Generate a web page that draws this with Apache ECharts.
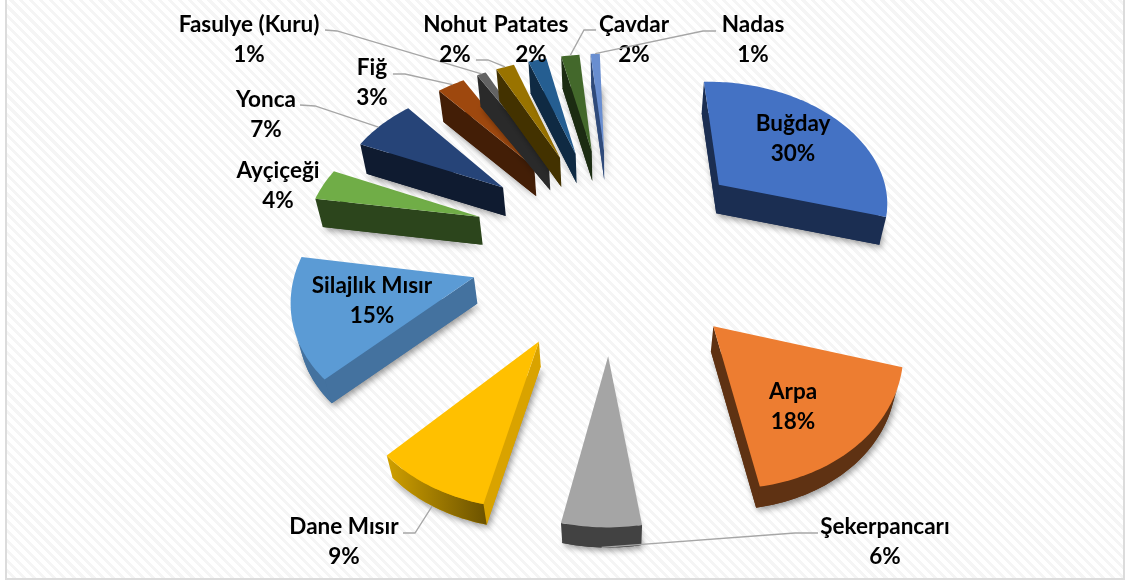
<!DOCTYPE html>
<html>
<head>
<meta charset="utf-8">
<style>
  html, body { margin: 0; padding: 0; background: #fff; }
  #frame {
    position: absolute; left: 5px; top: -4px; width: 1116px; height: 580px;
    border: 2px solid #dcdcdc;
    background: repeating-linear-gradient(45deg, #ffffff 0 4px, #f5f5f5 4px 7px);
  }
  #chart { position: absolute; left: 0; top: 0; width: 1125px; height: 584px; }
</style>
</head>
<body>
<div id="frame"></div>
<div id="chart"></div>
<script src="https://cdn.jsdelivr.net/npm/echarts@6/dist/echarts.min.js"></script>
<script>
const categories = ["Buğday", "Arpa", "Şekerpancarı", "Dane Mısır", "Silajlık Mısır", "Ayçiçeği", "Yonca", "Fiğ", "Fasulye (Kuru)", "Nohut", "Patates", "Çavdar", "Nadas"];
const shares = [30, 18, 6, 9, 15, 4, 7, 3, 1, 2, 2, 2, 1];

const topColors = ["#4472C4", "#ED7D31", "#A5A5A5", "#FFC000", "#5B9BD5", "#70AD47", "#264478", "#9E480E", "#636363", "#997300", "#255E91", "#43682B", "#698ED0"];
const wallColors = ["#1B2E52", "#5F3213", "#424242", "#D9A300", "#44729F", "#2C451C", "#0F1B30", "#431E06", "#2A2A2A", "#433200", "#0F2A43", "#1C2C12", "#2F4A7A"];

// label centre of the name line, the percent sits one line below
const labelX = [793, 793, 885, 344, 372, 278, 266, 372, 249, 455, 531, 634, 753];
const labelY = [124, 392, 527, 527, 286, 171, 100, 68, 25, 25, 25, 25, 25];

// leader lines: two fixed points next to the label, then where on the arc it lands and on which edge
const leaders = {
  2: [[818, 533], [795, 533], 0.5, 1],
  3: [[403, 533], [415, 533], 0.5, 1],
  6: [[300, 105], [315, 106], 0.45, 0],
  7: [[393, 74], [405, 74], 0.5, 0],
  8: [[325, 30], [337, 31], 0.5, 0],
  9: [[476, 60], [488, 60], 0.5, 0],
  11: [[596, 30], [584, 30], 0.5, 0],
  12: [[716, 31], [703, 31], 0.5, 0]
};

// 3D pie view: exploded slices on a tilted plane, fitted to the picture
const view = { cx: 612.6, y0: 244.4, a: 142, b: 102.2, p: 0.087, r: 1.232, rot: -1.96 };
const wallDrop = { k: 0.025, vy: 1330 }; // vertical edges run to this point
const labelFont = "bold 22.5px Lato";
const total = shares.reduce((s, v) => s + v, 0);

const project = (X, Y) => {
  const w = 1 + view.p * Y;
  return [view.cx + (view.a * X) / w, view.y0 - (view.b * Y) / w];
};
const lower = (pt) => [pt[0] + (view.cx - pt[0]) * wallDrop.k, pt[1] + (wallDrop.vy - pt[1]) * wallDrop.k];
const area = (pts) => pts.reduce((s, p, i) => {
  const q = pts[(i + 1) % pts.length];
  return s + p[0] * q[1] - q[0] * p[1];
}, 0);

/** top face outline of one slice: apex first, then the arc clockwise */
const sliceFace = (index, value) => {
  const before = shares.slice(0, index).reduce((s, v) => s + v, 0);
  const start = ((view.rot + (before / total) * 360) * Math.PI) / 180;
  const span = ((value / total) * 360 * Math.PI) / 180;
  const mid = start + span / 2;
  const ox = Math.sin(mid);
  const oy = Math.cos(mid);
  const n = Math.max(4, Math.round(value * 3));
  const arc = [];
  for (let k = 0; k <= n; k++) {
    const t = start + (span * k) / n;
    arc.push(project(ox + view.r * Math.sin(t), oy + view.r * Math.cos(t)));
  }
  return { apex: project(ox, oy), arc };
};

const polygon = (points, style) => ({ type: "polygon", shape: { points }, style });

const renderSlice = (params, api) => {
  const i = api.value(1);
  const { apex, arc } = sliceFace(i, api.value(0));
  const face = [apex].concat(arc);
  const children = [];

  // silhouette of the floor, carries the soft shadow
  children.push(polygon(face.map(lower), {
    fill: wallColors[i],
    shadowColor: "rgba(0,0,0,0.4)",
    shadowBlur: 6,
    shadowOffsetX: 2,
    shadowOffsetY: 3
  }));

  // radial walls that face the viewer
  [[apex, arc[0]], [arc[arc.length - 1], apex]].forEach(([p, q]) => {
    const quad = [p, q, lower(q), lower(p)];
    if (area(quad) < 0) children.push(polygon(quad, { fill: wallColors[i] }));
  });

  // outer arc wall
  const front = [];
  for (let k = 0; k < arc.length - 1; k++) {
    const quad = [arc[k], arc[k + 1], lower(arc[k + 1]), lower(arc[k])];
    if (area(quad) < 0) front.push(k);
  }
  if (front.length) {
    const upper = front.map((k) => arc[k]).concat([arc[front[front.length - 1] + 1]]);
    const strip = upper.concat(upper.map(lower).reverse());
    // Dane Mısır rim runs from gold to dark brown in the original
    const fill = categories[i] === "Dane Mısır"
      ? new echarts.graphic.LinearGradient(0, 0, 1, 0, [
          { offset: 0, color: "#D0A000" },
          { offset: 1, color: "#6B5200" }
        ])
      : wallColors[i];
    children.push(polygon(strip, { fill }));
  }

  children.push(polygon(face, { fill: topColors[i] }));
  return { type: "group", children };
};

const renderLabel = (params, api) => {
  const i = api.value(1);
  const children = [];
  const leader = leaders[i];
  if (leader) {
    const { arc } = sliceFace(i, api.value(0));
    const hit = arc[Math.round((arc.length - 1) * leader[2])];
    const end = leader[3] ? lower(hit) : hit;
    children.push({
      type: "polyline",
      shape: { points: [leader[0], leader[1], end] },
      style: { fill: "none", stroke: "#a6a6a6", lineWidth: 1.3 }
    });
  }
  [categories[i], api.value(0) + "%"].forEach((text, line) => {
    children.push({
      type: "text",
      style: {
        x: labelX[i],
        y: labelY[i] + line * 30,
        text,
        font: labelFont,
        fill: "#000",
        textAlign: "center",
        textVerticalAlign: "middle"
      }
    });
  });
  return { type: "group", children };
};

const seriesData = shares.map((v, i) => [v, i]);
const chart = echarts.init(document.getElementById("chart"));
chart.setOption({
  animation: false,
  series: [
    { type: "custom", coordinateSystem: "none", data: seriesData, renderItem: renderSlice, silent: true, z: 2 },
    { type: "custom", coordinateSystem: "none", data: seriesData, renderItem: renderLabel, silent: true, z: 3 }
  ]
});
</script>
</body>
</html>
